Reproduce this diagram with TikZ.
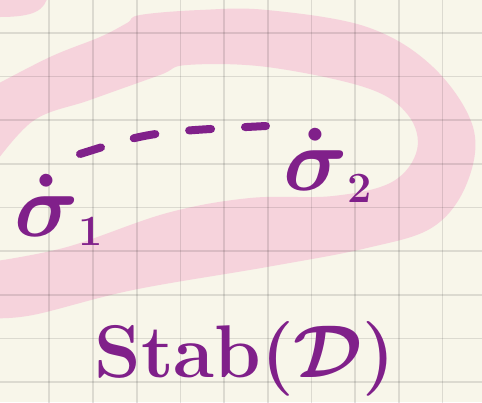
\documentclass[tikz,border=0pt]{standalone}
\definecolor{paper}{RGB}{248,246,234}
\definecolor{band}{RGB}{246,211,220}
\definecolor{ink}{RGB}{128,32,138}
\begin{document}
\begin{tikzpicture}[x=1pt,y=-1pt,
  inktext/.style={text=ink, inner sep=0pt, font=\Huge\bfseries\boldmath},
  dashstroke/.style={draw=ink, line width=8pt, line cap=round, dash pattern=on 22pt off 34pt},
  gridline/.style={draw=black, opacity=0.11, line width=1.7pt}]
\useasboundingbox (0,0) rectangle (482,402);
\fill[paper] (0,0) rectangle (482,402);
\begin{scope}
\clip (0,0) rectangle (482,402);
\fill[band] plot[smooth, tension=0.6] coordinates {(-10,88) (50,57) (100,37) (127,23) (140,15) (200,10) (267,10) (367,27) (433,67) (473,127) (467,183) (433,227) (367,248) (267,267) (133,290) (33,315) (-10,318)}
  -- plot[smooth, tension=0.6] coordinates {(-10,262) (67,247) (167,213) (250,198) (333,196) (392,182) (417,150) (408,115) (367,88) (267,67) (187,65) (160,75) (90,100) (33,121) (-10,170)} -- cycle;
\fill[band] (-5,-5) -- (48,-5) .. controls (45,10) and (35,17) .. (0,17) -- (-5,17) -- cycle;
\foreach \gx in {49.3,93,136.7,180.4,224.1,267.8,311.5,355.2,398.9,442.6}
  \draw[gridline] (\gx,-2) -- (\gx,404);
\foreach \gy in {32.7,76.4,120.1,163.8,207.5,251.2,294.9,338.6,382.3}
  \draw[gridline] (-2,\gy) -- (484,\gy);
\end{scope}
\node[inktext, anchor=base west] (s1) at (14,236) {\scalebox{3.6}{$\dot{\sigma}$\raisebox{-2.5pt}{\large 1}}};
\node[inktext, anchor=base west] (s2) at (283,190) {\scalebox{3.6}{$\dot{\sigma}$\raisebox{-3.5pt}{\large 2}}};
\coordinate (c1) at (80,154);
\coordinate (c2) at (266,126);
\draw[dashstroke] (c1) .. controls (150,132) .. (c2);
\node[inktext, anchor=base] (stab) at (245,377) {\scalebox{3.0}{Stab($\mathcal{D}$)}};
\end{tikzpicture}
\end{document}
